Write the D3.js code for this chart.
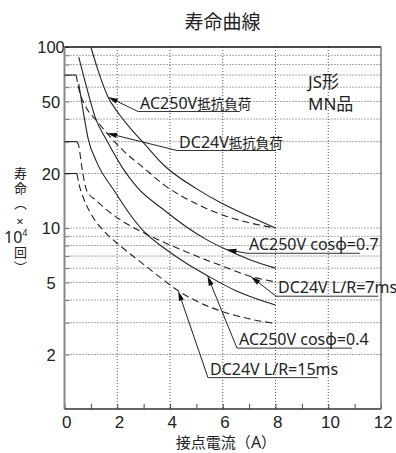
<!DOCTYPE html>
<html>
<head>
<meta charset="utf-8">
<script src="https://cdn.jsdelivr.net/npm/d3@7"></script>
<style>
  body { margin: 0; background: #fff; }
  svg { font-family: "Noto Sans", "Noto Sans CJK JP", sans-serif; }
</style>
</head>
<body>
<div id="chart"></div>
<script>
var W = 396, H = 453;
var margin = {top: 47, right: 15, bottom: 44, left: 64.5},
  width = W - margin.left - margin.right,
  height = H - margin.top - margin.bottom;

// axis ticks
var xTicks = [0, 1, 2, 3, 4, 5, 6, 7, 8, 9, 10, 11, 12];
var xLabels = [0, 2, 4, 6, 8, 10, 12];
var yGrid = [2, 3, 4, 5, 6, 7, 8, 9, 10, 20, 30, 40, 50, 60, 70, 80, 90];
var yLabels = [2, 5, 10, 20, 50, 100];

// life curves: [current (A), life (x10^4 operations)]
var ac250Res = [[1.0, 100], [1.25, 76], [1.65, 53], [2, 44], [2.5, 35.5], [3, 29.5], [3.8, 22], [5, 16.5], [6, 13.6], [7, 11.6], [8, 10]];
var dc24Res = [[0, 70], [0.44, 70], [0.54, 59], [0.8, 47], [1.23, 39], [1.61, 33.4], [2.2, 27], [3, 21.5], [3.8, 17.2], [5, 13.6], [6, 11.8], [7, 10.7], [8, 10]];
var ac250Cos07 = [[0.54, 88], [0.85, 59], [1.16, 41], [1.6, 30.5], [2.2, 21.5], [2.75, 16.8], [3.8, 12.5], [4.6, 10.2], [5.4, 8.6], [6.14, 7.6], [7, 6.7], [8, 6]];
var dc24LR7 = [[0, 30], [0.47, 30], [0.54, 28.5], [0.65, 22], [0.85, 16], [1.2, 14.2], [1.6, 12.6], [2.2, 10.9], [3, 9.4], [3.8, 8.3], [5, 7.0], [6, 6.15], [7.06, 5.4], [8, 5.04]];
var ac250Cos04 = [[0.54, 62.6], [0.7, 45], [0.9, 31], [1.2, 23.5], [1.92, 15.8], [2.5, 11.8], [3, 9.6], [3.8, 7.7], [4.6, 6.4], [5.42, 5.45], [6.5, 4.5], [8, 3.75]];
var dc24LR15 = [[0, 20], [0.47, 20], [0.55, 17.5], [0.73, 14.5], [1.0, 12], [1.5, 9.6], [2.1, 8.0], [3, 6.3], [3.8, 5.1], [4.31, 4.5], [5, 3.95], [6, 3.45], [7, 3.15], [8, 2.97]];

var seriesNames = ["AC250V抵抗負荷", "DC24V抵抗負荷", "AC250V cosφ=0.7", "DC24V L/R=7ms", "AC250V cosφ=0.4", "DC24V L/R=15ms"];
var seriesData = [ac250Res, dc24Res, ac250Cos07, dc24LR7, ac250Cos04, dc24LR15];
var seriesDashed = [false, true, false, true, false, true];

// label callouts: arrow current on the curve, underline start (A, life) and end (A)
var noteAt = [1.65, 1.61, 6.14, 7.06, 5.42, 4.31];
var noteLineX = [2.79, 4.27, 6.92, 8.02, 6.54, 5.44];
var noteLineY = [44.0, 26.8, 7.25, 4.2, 2.17, 1.49];
var noteLineX2 = [6.65, 8.02, 11.2, 11.9, 10.9, 9.61];

var svg = d3.select("#chart").append("svg")
  .attr("width", W)
  .attr("height", H);

var g = svg.append("g")
  .attr("transform", "translate(" + margin.left + "," + margin.top + ")");

var x = d3.scaleLinear().domain([0, 12]).range([0, width]);
var y = d3.scaleLog().domain([1, 100]).range([height, 0]);

// dotted grid
g.selectAll(".hgrid")
  .data(yGrid)
  .join("line")
  .attr("x1", 0).attr("x2", width)
  .attr("y1", (d) => y(d)).attr("y2", (d) => y(d))
  .attr("stroke", "#555")
  .attr("stroke-width", 1)
  .attr("stroke-dasharray", "1,2");

g.selectAll(".vgrid")
  .data(xLabels.filter((d) => d > 0 && d < 12))
  .join("line")
  .attr("x1", (d) => x(d)).attr("x2", (d) => x(d))
  .attr("y1", 0).attr("y2", height)
  .attr("stroke", "#555")
  .attr("stroke-width", 1)
  .attr("stroke-dasharray", "1,2");

// axes
var xAxis = d3.axisBottom(x)
  .tickValues(xTicks)
  .tickSizeInner(-5)
  .tickSizeOuter(0)
  .tickPadding(7)
  .tickFormat((d) => xLabels.indexOf(d) >= 0 ? d : "");

var gx = g.append("g")
  .attr("transform", "translate(0," + height + ")")
  .call(xAxis);
gx.select(".domain").remove();
gx.selectAll(".tick line").attr("stroke", "#444");
gx.selectAll(".tick text")
  .attr("dx", "0.1em")
  .style("font-size", "17px")
  .style("fill", "#222");

var yAxis = d3.axisLeft(y)
  .tickValues(yGrid.concat([100]))
  .tickSizeInner(-5)
  .tickSizeOuter(0)
  .tickFormat((d) => yLabels.indexOf(d) >= 0 ? d : "");

var gy = g.append("g").call(yAxis);
gy.select(".domain").remove();
gy.selectAll(".tick line").attr("stroke", "#777");
gy.selectAll(".tick text")
  .attr("x", -13.5)
  .attr("text-anchor", "middle")
  .attr("dy", "0.35em")
  .style("font-size", "16.5px")
  .style("fill", "#222");

// frame
g.append("line").attr("x1", 0).attr("x2", 0).attr("y1", 0).attr("y2", height)
  .attr("stroke", "#888").attr("stroke-width", 2);
g.append("line").attr("x1", 0).attr("x2", width).attr("y1", height).attr("y2", height)
  .attr("stroke", "#333").attr("stroke-width", 1.3);
g.append("line").attr("x1", 0).attr("x2", width).attr("y1", 0).attr("y2", 0)
  .attr("stroke", "#111").attr("stroke-width", 1.3);
g.append("line").attr("x1", width).attr("x2", width).attr("y1", 0).attr("y2", height)
  .attr("stroke", "#777").attr("stroke-width", 1.5);

// curves
var line = d3.line()
  .x((d) => x(d[0]))
  .y((d) => y(d[1]))
  .curve(d3.curveMonotoneX);

var paths = [];
seriesData.forEach(function(data, i) {
  // leading flat part drawn solid
  var k = 0;
  while (k + 1 < data.length && data[k + 1][1] === data[0][1]) k++;
  if (k > 0) {
    g.append("path")
      .attr("d", line(data.slice(0, k + 1)))
      .attr("fill", "none")
      .attr("stroke", "#222")
      .attr("stroke-width", 1.1);
  }
  var p = g.append("path")
    .attr("d", line(data.slice(k)))
    .attr("fill", "none")
    .attr("stroke", "#222")
    .attr("stroke-width", 1.1)
    .attr("stroke-dasharray", seriesDashed[i] ? "7,4" : null);
  paths.push(p.node());
});

// find point on a drawn curve at a given x pixel
function pointAtX(node, px) {
  var lo = 0, hi = node.getTotalLength();
  for (var n = 0; n < 40; n++) {
    var mid = (lo + hi) / 2;
    if (node.getPointAtLength(mid).x < px) lo = mid; else hi = mid;
  }
  return node.getPointAtLength((lo + hi) / 2);
}

// callouts
seriesNames.forEach(function(name, i) {
  var tip = pointAtX(paths[i], x(noteAt[i]));
  var ux = x(noteLineX[i]), uy = y(noteLineY[i]);
  var dx = tip.x - ux, dy = tip.y - uy;
  var len = Math.sqrt(dx * dx + dy * dy);
  var ex = dx / len, ey = dy / len;

  g.append("line")
    .attr("x1", ux).attr("y1", uy)
    .attr("x2", tip.x - ex * 4).attr("y2", tip.y - ey * 4)
    .attr("stroke", "#222").attr("stroke-width", 1);

  var L = 10, Wd = 2.6;
  var bx = tip.x - ex * L, by = tip.y - ey * L;
  g.append("path")
    .attr("d", "M" + tip.x + "," + tip.y +
      "L" + (bx - ey * Wd) + "," + (by + ex * Wd) +
      "L" + (bx + ey * Wd) + "," + (by - ex * Wd) + "Z")
    .attr("fill", "#111");

  g.append("line")
    .attr("x1", ux).attr("x2", x(noteLineX2[i]))
    .attr("y1", uy).attr("y2", uy)
    .attr("stroke", "#333").attr("stroke-width", 1);

  var t = g.append("text")
    .attr("x", ux + 2)
    .attr("y", uy - 3)
    .style("fill", "#222");
  name.match(/[\u3000-\u9fff]+|[^\u3000-\u9fff]+/g).forEach(function(part) {
    t.append("tspan")
      .style("font-size", /[\u3000-\u9fff]/.test(part) ? "13.5px" : "16px")
      .text(part);
  });
});

// texts
svg.append("text")
  .attr("x", 222.5).attr("y", 29)
  .attr("text-anchor", "middle")
  .style("font-size", "19px")
  .style("fill", "#222")
  .text("寿命曲線");

svg.append("text")
  .attr("x", 308).attr("y", 88)
  .style("font-size", "17px")
  .style("fill", "#222")
  .text("JS形");

svg.append("text")
  .attr("x", 308).attr("y", 110)
  .style("font-size", "17px")
  .style("fill", "#222")
  .text("MN品");

var xt = svg.append("text")
  .attr("x", 226).attr("y", 448)
  .attr("text-anchor", "middle")
  .style("fill", "#222");
xt.append("tspan").style("font-size", "15px").text("接点電流（");
xt.append("tspan").style("font-size", "16px").text("A");
xt.append("tspan").style("font-size", "15px").text("）");

// vertical y title
svg.append("text")
  .attr("x", 20).attr("y", 167)
  .style("writing-mode", "vertical-rl")
  .style("text-orientation", "upright")
  .style("letter-spacing", "2px")
  .style("font-size", "13px")
  .style("fill", "#222")
  .text("寿命（×");
var pow = svg.append("text")
  .attr("x", 4).attr("y", 243)
  .style("fill", "#222");
pow.append("tspan").style("font-size", "16px").text("10");
pow.append("tspan").attr("dy", -7).style("font-size", "9px").text("4");
svg.append("text")
  .attr("x", 20).attr("y", 246)
  .style("writing-mode", "vertical-rl")
  .style("text-orientation", "upright")
  .style("letter-spacing", "2px")
  .style("font-size", "13px")
  .style("fill", "#222")
  .text("回）");
</script>
</body>
</html>
